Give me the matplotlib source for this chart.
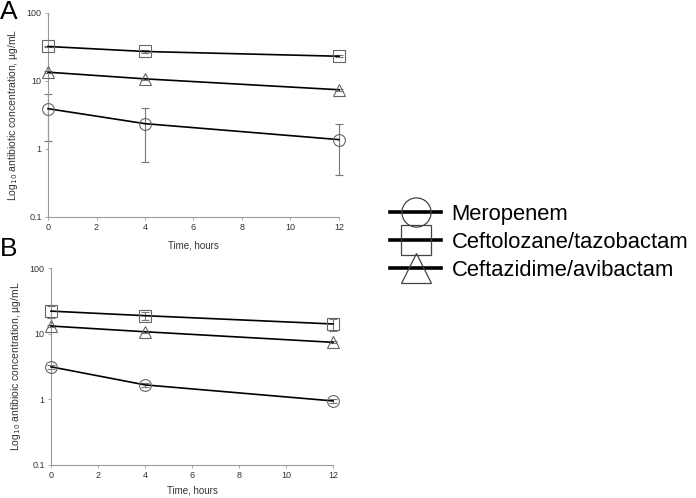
import matplotlib
matplotlib.use("Agg")
import matplotlib.pyplot as plt
from matplotlib.lines import Line2D

plt.rcParams['font.family'] = ['Liberation Sans', 'DejaVu Sans']

time = [0, 4, 12]

# Panel A
a_mero = [3.9, 2.35, 1.37]
a_mero_sd = [2.6, 1.7, 0.95]
a_ceftol = [32, 27, 23]
a_ceftol_sd = [1.0, 1.2, 0.8]
a_ceftaz = [13.4, 10.7, 7.4]
a_ceftaz_sd = [0.5, 0.4, 0.3]

# Panel B
b_mero = [3.15, 1.67, 0.95]
b_mero_sd = [0.2, 0.1, 0.08]
b_ceftol = [22.3, 19, 14.2]
b_ceftol_sd = [4.5, 2.4, 3.0]
b_ceftaz = [13.2, 10.8, 7.45]
b_ceftaz_sd = [0.5, 0.4, 0.3]

labels = ["Meropenem", "Ceftolozane/tazobactam", "Ceftazidime/avibactam"]
markers = ["o", "s", "^"]
xticks = [0, 2, 4, 6, 8, 10, 12]
yticks = [0.1, 1, 10, 100]
ytick_labels = ["0.1", "1", "10", "100"]

fig = plt.figure(figsize=(6.96, 4.98), dpi=100)
axA = fig.add_axes([0.069, 0.5643, 0.418, 0.41])
axB = fig.add_axes([0.0733, 0.0663, 0.405, 0.3947])

def draw(ax, series, ylabel, xpad):
    for (y, sd), m in zip(series, markers):
        ax.errorbar(time, y, yerr=sd, fmt='none', ecolor='#777777',
                    elinewidth=0.8, capsize=3, capthick=0.8, zorder=2)
        ax.plot(time, y, color='black', lw=1.2, zorder=3)
        ax.plot(time, y, linestyle='none', marker=m, ms=8.5, mfc='none',
                mec='#666666', mew=0.8, zorder=4)
    ax.set_yscale('log')
    ax.set_ylim(0.1, 100)
    ax.set_xlim(0, 12)
    ax.set_xticks(xticks)
    ax.set_yticks(yticks)
    ax.set_yticklabels(ytick_labels)
    ax.minorticks_off()
    ax.tick_params(labelsize=6.5, length=2.5, width=0.6, pad=2)
    ax.tick_params(axis='both', colors='#999999', labelcolor='#333333')
    for s in ['top', 'right']:
        ax.spines[s].set_visible(False)
    for s in ['left', 'bottom']:
        ax.spines[s].set_color('#999999')
        ax.spines[s].set_linewidth(0.8)
    ax.set_xlabel("Time, hours", fontsize=7, color='#333333', labelpad=xpad)
    ax.set_ylabel(ylabel, fontsize=7.5, color='#333333', labelpad=5)
    for ch in ax.get_children():
        try:
            ch.set_clip_on(False)
        except Exception:
            pass

draw(axA, [(a_mero, a_mero_sd), (a_ceftol, a_ceftol_sd), (a_ceftaz, a_ceftaz_sd)],
     "Log$_{10}$ antibiotic concentration, µg/mL", 6)
draw(axB, [(b_mero, b_mero_sd), (b_ceftol, b_ceftol_sd), (b_ceftaz, b_ceftaz_sd)],
     "Log$_{10}$ antibioic concentration, µg/mL", 4)

fig.text(0.0, 1.0, "A", fontsize=19, va='top', ha='left')
fig.text(0.0, 0.525, "B", fontsize=19, va='top', ha='left')

handles = [Line2D([0], [0], color='black', lw=2.6, marker=m, ms=21, mfc='none',
                  mec='#444444', mew=0.9) for m in markers]
fig.legend(handles, labels, loc='center left', bbox_to_anchor=(0.545, 0.513),
           frameon=False, fontsize=15.8, handlelength=2.3, handletextpad=0.5,
           labelspacing=0.32, borderpad=0)

fig.savefig("out.png", dpi=100)
